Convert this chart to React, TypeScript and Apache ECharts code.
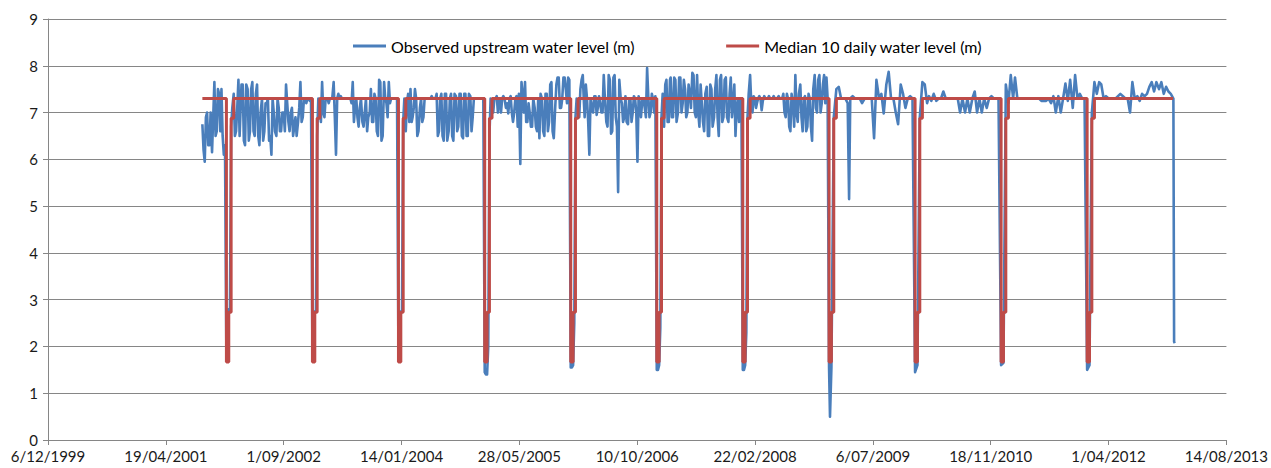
import { useEffect, useRef } from 'react';
import * as echarts from 'echarts';

// ---- axis ticks (Excel date serials: 36500 = 6/12/1999, step 500 days) ----
const xMin = 36500;
const xMax = 41500;
const xStep = 500;
const yMin = 0;
const yMax = 9;
const yStep = 1;

const seriesNames = ['Observed upstream water level (m)', 'Median 10 daily water level (m)'];

// ---- observed upstream water level, readings on days 1, 11, 21 of each month ----
// 2001 starts at 21 September
const blue2001 = [6.75, 5.95, 7.0, 6.3, 6.15, 7.65, 6.6, 7.4, 7.5, 6.1];
const blue2002 = [1.7, 2.8, 6.7, 7.4, 6.6, 7.7, 6.5, 7.6, 6.3, 7.5, 6.6, 7.65, 6.5, 7.6, 6.3, 7.3, 6.6, 7.2, 6.4, 6.1, 7.0, 6.5, 7.1, 6.6, 7.0, 7.6, 6.8, 7.0, 6.5, 6.9, 6.8, 7.65, 6.9, 7.25, 7.3, 7.25];
const blue2003 = [1.7, 2.75, 6.5, 7.1, 7.65, 6.9, 7.3, 7.2, 7.3, 7.65, 6.1, 7.4, 7.35, 7.3, 7.3, 7.3, 7.3, 7.65, 7.1, 6.9, 7.1, 6.8, 7.0, 6.6, 7.0, 6.8, 7.4, 6.6, 7.7, 6.4, 7.65, 7.2, 7.65, 7.3, 7.3, 7.3];
const blue2004 = [1.7, 2.75, 6.8, 6.6, 7.4, 7.5, 6.9, 7.5, 6.5, 7.1, 6.8, 7.3, 7.3, 7.3, 7.35, 7.3, 7.4, 6.6, 7.4, 6.4, 7.4, 6.6, 7.4, 6.4, 7.35, 6.7, 7.4, 6.45, 7.4, 6.5, 7.35, 6.9, 7.3, 7.3, 7.3, 7.3];
const blue2005 = [1.45, 1.4, 6.5, 7.2, 7.3, 7.35, 7.3, 7.0, 7.35, 7.1, 6.98, 7.35, 6.8, 7.3, 6.7, 5.9, 7.4, 7.65, 6.8, 7.0, 6.7, 7.1, 6.6, 6.45, 7.3, 6.5, 7.4, 6.8, 7.65, 6.45, 7.6, 7.75, 7.1, 7.75, 7.5, 7.75];
const blue2006 = [1.55, 1.6, 6.9, 7.1, 7.5, 7.8, 6.9, 7.3, 6.1, 7.1, 7.35, 6.95, 7.35, 7.0, 7.8, 6.8, 7.8, 6.55, 7.75, 6.9, 5.3, 7.3, 6.8, 7.35, 6.75, 7.3, 7.0, 7.3, 5.95, 7.2, 7.3, 7.1, 7.95, 6.9, 7.4, 7.0];
const blue2007 = [1.5, 1.6, 6.9, 6.7, 7.7, 6.8, 7.75, 6.9, 7.7, 7.0, 7.75, 7.2, 7.5, 7.0, 7.4, 7.85, 7.0, 7.8, 6.7, 7.2, 6.6, 7.55, 6.5, 7.5, 6.9, 7.8, 6.5, 7.8, 6.9, 7.75, 6.8, 7.75, 7.2, 6.5, 7.3, 7.3];
const blue2008 = [1.5, 1.6, 6.9, 7.8, 7.0, 7.3, 7.2, 7.35, 7.05, 7.35, 7.3, 7.35, 7.3, 7.35, 7.3, 7.35, 7.3, 7.4, 6.9, 7.3, 6.6, 7.2, 7.8, 6.8, 7.6, 6.6, 7.35, 6.7, 7.3, 6.4, 7.8, 7.0, 7.8, 7.2, 7.8, 7.75];
const blue2009 = [1.55, 1.55, 6.9, 7.5, 7.55, 7.3, 7.3, 7.3, 7.2, 7.3, 7.35, 7.3, 7.3, 7.3, 7.2, 7.3, 7.3, 7.3, 7.3, 6.45, 7.7, 7.3, 7.4, 6.98, 7.6, 7.87, 7.3, 7.3, 7.0, 6.75, 7.6, 7.4, 7.1, 7.3, 7.35, 7.3];
const blue2010 = [1.45, 1.6, 6.9, 7.65, 7.6, 7.2, 7.35, 7.25, 7.4, 7.25, 7.3, 7.3, 7.45, 7.3, 7.3, 7.3, 7.3, 7.3, 7.3, 7.0, 7.3, 7.0, 7.3, 7.0, 7.3, 7.45, 7.0, 7.3, 7.0, 7.3, 7.1, 7.3, 7.35, 7.3, 7.3, 7.3];
const blue2011 = [1.6, 1.65, 7.6, 7.2, 7.8, 7.3, 7.75, 7.3, 7.3, 7.3, 7.3, 7.3, 7.3, 7.3, 7.3, 7.3, 7.3, 7.25, 7.25, 7.25, 7.3, 7.2, 7.35, 7.0, 7.35, 7.0, 7.3, 7.62, 7.25, 7.7, 7.1, 7.8, 7.3, 7.4, 7.3, 7.3];
const blue2012 = [1.5, 1.6, 7.0, 7.65, 7.4, 7.65, 7.6, 7.3, 7.35, 7.3, 7.3, 7.3, 7.3, 7.35, 7.4, 7.35, 7.3, 7.3, 7.0, 7.65, 7.3, 7.35, 7.25, 7.4, 7.35, 7.4, 7.55, 7.65, 7.45, 7.65, 7.5, 7.65, 7.4, 7.55, 7.45, 7.4];

// ---- in-between readings on days 6, 16, 26 (the busy years) ----
const mid2001 = [6.2, 6.9, 6.3, 7.0, 6.9, 6.5, 7.5, 6.6, 6.5, 6.3];
const mid2002 = [1.7, 2.75, 7.1, 6.5, 7.1, 6.5, 7.6, 6.4, 7.6, 6.4, 7.5, 6.6, 7.4, 6.5, 7.0, 6.4, 7.2, 7.3, 6.5, 7.3, 6.6, 7.3, 6.6, 7.0, 6.6, 7.2, 6.6, 7.1, 6.7, 6.5, 7.1, 6.8, 7.3, 7.2, 7.3, 7.3];
const mid2003 = [1.7, 2.75, 7.3, 6.8, 7.0, 7.3, 7.3, 7.3, 7.3, 6.9, 7.3, 7.3, 7.3, 7.3, 7.3, 7.3, 7.2, 6.8, 7.3, 6.7, 7.3, 6.7, 7.3, 6.9, 7.5, 6.8, 7.3, 6.5, 7.65, 6.5, 7.3, 6.9, 7.2, 7.3, 7.3, 7.3];
const mid2004 = [1.7, 2.75, 7.3, 7.2, 6.8, 6.8, 7.1, 7.3, 6.6, 7.3, 6.9, 7.3, 7.3, 7.3, 7.3, 7.3, 6.5, 7.3, 6.5, 7.4, 6.4, 7.3, 6.5, 7.4, 6.6, 7.4, 6.5, 7.4, 6.5, 7.4, 6.6, 7.3, 7.3, 7.3, 7.3, 7.3];
const mid2005 = [1.4, 2.0, 7.3, 7.0, 7.3, 7.0, 7.3, 7.3, 7.3, 7.2, 7.3, 7.0, 7.0, 7.35, 7.4, 7.65, 7.0, 6.8, 7.2, 6.7, 7.3, 6.7, 7.3, 7.4, 6.6, 7.4, 6.6, 7.6, 6.6, 7.0, 7.75, 7.1, 7.3, 7.75, 7.2, 7.7];
const mid2006 = [1.55, 2.5, 7.3, 6.9, 7.7, 7.2, 7.6, 6.8, 7.3, 7.0, 7.35, 7.1, 7.2, 7.0, 7.3, 6.7, 7.7, 6.6, 7.8, 6.7, 7.7, 7.2, 6.9, 6.8, 7.3, 6.8, 7.35, 7.0, 7.35, 6.9, 7.3, 6.9, 7.35, 7.0, 7.3, 7.35];
const mid2007 = [1.5, 2.4, 7.4, 7.6, 6.8, 7.7, 6.9, 7.75, 6.8, 7.75, 7.0, 7.7, 6.9, 7.6, 7.1, 7.8, 6.9, 7.0, 7.6, 6.8, 7.4, 6.5, 7.6, 6.7, 7.5, 6.9, 7.7, 6.8, 7.7, 6.9, 7.4, 6.9, 7.6, 7.1, 6.8, 7.3];
const mid2008 = [1.5, 2.3, 7.4, 7.2, 7.35, 7.1, 7.3, 7.3, 7.25, 7.3, 7.3, 7.3, 7.3, 7.3, 7.3, 7.3, 7.3, 7.0, 7.4, 6.7, 7.4, 6.7, 7.0, 7.4, 6.9, 7.3, 6.6, 7.4, 6.7, 7.5, 7.1, 7.7, 7.0, 7.6, 7.2, 7.3];

// single-day readings between the regular ones
const blueExtra: [string, number][] = [
  ['2009-01-05', 0.5],
  ['2009-03-27', 5.15],
  ['2013-01-01', 7.3],
  ['2013-01-04', 2.1],
  ['2013-01-07', 2.07],
];

// ---- median 10 daily water level (value holds until the next date) ----
const redData: [string, number][] = [
  ['2001-09-21', 7.3],
  ['2002-01-01', 1.67], ['2002-01-11', 2.73], ['2002-01-21', 6.88], ['2002-02-01', 7.3],
  ['2003-01-01', 1.67], ['2003-01-11', 2.73], ['2003-01-21', 6.88], ['2003-02-01', 7.3],
  ['2004-01-01', 1.67], ['2004-01-11', 2.73], ['2004-01-21', 6.88], ['2004-02-01', 7.3],
  ['2005-01-01', 1.67], ['2005-01-11', 2.73], ['2005-01-21', 6.88], ['2005-02-01', 7.3],
  ['2006-01-01', 1.67], ['2006-01-11', 2.73], ['2006-01-21', 6.88], ['2006-02-01', 7.3],
  ['2007-01-01', 1.67], ['2007-01-11', 2.73], ['2007-01-21', 6.88], ['2007-02-01', 7.3],
  ['2008-01-01', 1.67], ['2008-01-11', 2.73], ['2008-01-21', 6.88], ['2008-02-01', 7.3],
  ['2009-01-01', 1.67], ['2009-01-11', 2.73], ['2009-01-21', 6.88], ['2009-02-01', 7.3],
  ['2010-01-01', 1.67], ['2010-01-11', 2.73], ['2010-01-21', 6.88], ['2010-02-01', 7.3],
  ['2011-01-01', 1.67], ['2011-01-11', 2.73], ['2011-01-21', 6.88], ['2011-02-01', 7.3],
  ['2012-01-01', 1.67], ['2012-01-11', 2.73], ['2012-01-21', 6.88], ['2012-02-01', 7.3],
  ['2012-12-31', 7.3],
];

// [year, first reading index in the year, values, day-of-period offset]
const blueBlocks: [number, number, number[], number][] = [
  [2001, 26, blue2001, 0], [2001, 26, mid2001, 5],
  [2002, 0, blue2002, 0], [2002, 0, mid2002, 5],
  [2003, 0, blue2003, 0], [2003, 0, mid2003, 5],
  [2004, 0, blue2004, 0], [2004, 0, mid2004, 5],
  [2005, 0, blue2005, 0], [2005, 0, mid2005, 5],
  [2006, 0, blue2006, 0], [2006, 0, mid2006, 5],
  [2007, 0, blue2007, 0], [2007, 0, mid2007, 5],
  [2008, 0, blue2008, 0], [2008, 0, mid2008, 5],
  [2009, 0, blue2009, 0],
  [2010, 0, blue2010, 0],
  [2011, 0, blue2011, 0],
  [2012, 0, blue2012, 0],
];

const DAY = 86400000;
const EXCEL_EPOCH = Date.UTC(1899, 11, 30);
const serial = (y: number, m: number, d: number) => (Date.UTC(y, m - 1, d) - EXCEL_EPOCH) / DAY;
const parseDate = (s: string) => {
  const [y, m, d] = s.split('-').map(Number);
  return serial(y, m, d);
};
const fmtDate = (v: number) => {
  const dt = new Date(EXCEL_EPOCH + Math.round(v) * DAY);
  const mm = String(dt.getUTCMonth() + 1).padStart(2, '0');
  return `${dt.getUTCDate()}/${mm}/${dt.getUTCFullYear()}`;
};

function buildBlue(): [number, number][] {
  const pts: [number, number][] = [];
  for (const [year, start, vals, off] of blueBlocks) {
    vals.forEach((v, i) => {
      const idx = start + i;
      const m = Math.floor(idx / 3) + 1;
      const d = [1, 11, 21][idx % 3] + off;
      pts.push([serial(year, m, d), v]);
    });
  }
  for (const [s, v] of blueExtra) pts.push([parseDate(s), v]);
  pts.sort((a, b) => a[0] - b[0]);
  return pts;
}

const FONT = 'Lato, "Liberation Sans", sans-serif';
const GRID_COLOR = '#868686';

export default function App() {
  const ref = useRef<HTMLDivElement>(null);
  useEffect(() => {
    if (!ref.current) return;
    const chart = echarts.init(ref.current, undefined, { renderer: 'svg' });
    const red = redData.map(([s, v]) => [parseDate(s), v]);
    chart.setOption({
      animation: false,
      backgroundColor: '#ffffff',
      textStyle: { fontFamily: FONT },
      grid: { left: 48, right: 43, top: 19, bottom: 28, containLabel: false },
      legend: {
        data: seriesNames,
        left: 353,
        top: 38,
        padding: 0,
        icon: 'rect',
        itemWidth: 33,
        itemHeight: 3,
        itemGap: 91,
        textStyle: { fontFamily: FONT, fontSize: 16, color: '#000' },
      },
      xAxis: {
        type: 'value',
        min: xMin,
        max: xMax,
        interval: xStep,
        axisLine: { show: true, lineStyle: { color: GRID_COLOR, width: 1 } },
        axisTick: { show: true, length: 5, lineStyle: { color: GRID_COLOR } },
        splitLine: { show: false },
        axisLabel: { formatter: fmtDate, fontFamily: FONT, fontSize: 15, color: '#1a1a1a', margin: 8 },
      },
      yAxis: {
        type: 'value',
        min: yMin,
        max: yMax,
        interval: yStep,
        axisLine: { show: true, lineStyle: { color: GRID_COLOR, width: 1 } },
        axisTick: { show: true, length: 5, lineStyle: { color: GRID_COLOR } },
        splitLine: { show: true, lineStyle: { color: GRID_COLOR, width: 1 } },
        axisLabel: { fontFamily: FONT, fontSize: 15, color: '#1a1a1a', margin: 10 },
      },
      series: [
        {
          name: seriesNames[0],
          type: 'line',
          data: buildBlue(),
          showSymbol: false,
          symbol: 'none',
          color: '#4A7EBB',
          lineStyle: { width: 2.6, color: '#4A7EBB', join: 'round' },
          z: 2,
        },
        {
          name: seriesNames[1],
          type: 'line',
          data: red,
          step: 'end',
          showSymbol: false,
          symbol: 'none',
          color: '#BE4B48',
          lineStyle: { width: 3, color: '#BE4B48' },
          z: 3,
        },
      ],
    });
    return () => chart.dispose();
  }, []);
  return (
    <div
      ref={ref}
      style={{ position: 'fixed', left: 0, top: 0, width: 1271, height: 468, background: '#fff' }}
    />
  );
}
